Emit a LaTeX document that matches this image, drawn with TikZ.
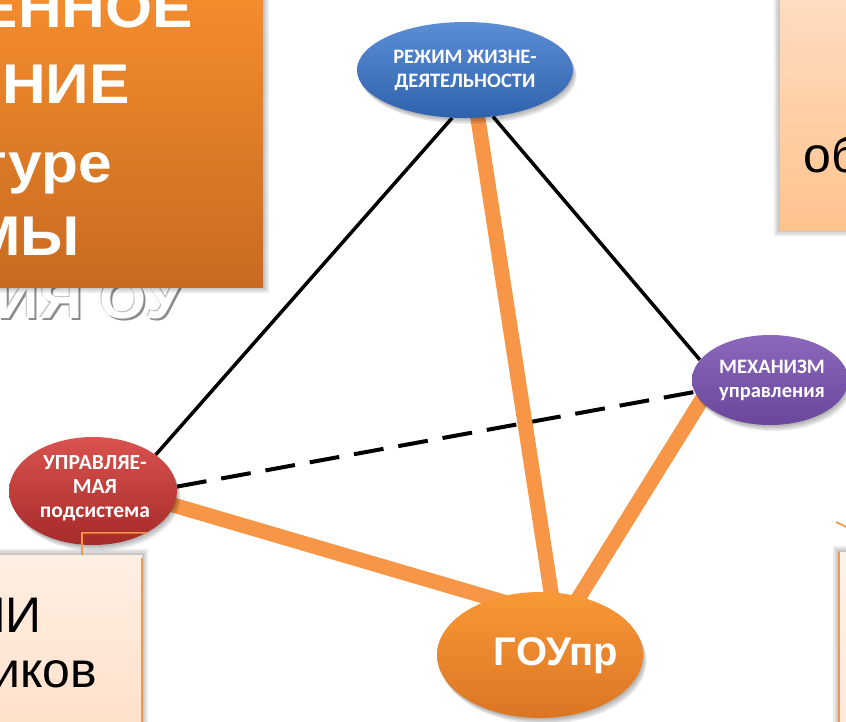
\documentclass[tikz,border=0pt]{standalone}
\usepackage{fontspec}
\setmainfont{Liberation Sans}
\newfontfamily\calib{Carlito}
\newfontfamily\ttlfont[FakeStretch=1.08]{Liberation Sans}
\usetikzlibrary{shapes.geometric}
\definecolor{orA}{HTML}{F79646}
\definecolor{titTop}{HTML}{F58D2E}
\definecolor{titBot}{HTML}{C96A1F}
\definecolor{pchTop}{HTML}{FFDDC2}
\definecolor{pchBot}{HTML}{FFC38E}
\definecolor{lpTop}{HTML}{FFEFE3}
\definecolor{lpBot}{HTML}{FFDFC8}
\definecolor{bluTop}{HTML}{5C8ED6}
\definecolor{bluBot}{HTML}{2F62AC}
\definecolor{redTop}{HTML}{D9534F}
\definecolor{redBot}{HTML}{A52A28}
\definecolor{purTop}{HTML}{8C68BC}
\definecolor{purBot}{HTML}{6A469C}
\definecolor{gouTop}{HTML}{F99836}
\definecolor{gouBot}{HTML}{DB7524}
\begin{document}
\begin{tikzpicture}[x=1pt,y=-1pt,
  shd/.style={fill=black, fill opacity=0.08, draw=none},
  ghost/.style={ellipse, inner sep=0pt, draw=none, fill=none},
  bubble/.style={ellipse, inner sep=0pt, text=white, align=center,
    font=\calib\bfseries\fontsize{20.5}{24}\selectfont},
  blk/.style={line width=3.5pt, draw=black},
  dsh/.style={line width=4pt, draw=black, dash pattern=on 30pt off 15pt},
  orl/.style={line width=15pt, draw=orA, shorten <=-12pt, shorten >=-12pt},
  thinor/.style={line width=1.6pt, draw=orA},
  ttl/.style={text=white, inner sep=0pt, font=\ttlfont\bfseries\fontsize{56}{60}\selectfont},
  btxt/.style={text=black, inner sep=0pt, font=\fontsize{50}{52}\selectfont},
  pbox/.style={rectangle, inner sep=0pt, draw=none}
]
\useasboundingbox (0,0) rectangle (846,721);
\clip (0,0) rectangle (846,721);
\fill[white] (0,0) rectangle (846,721);

% text overflowing below the title box
\node[ttl, text=black!45, anchor=base east] (t5s) at (185,320) {ИЯ ОУ};
\node[ttl, text=black!25, anchor=base east] (t5t) at (182,317) {ИЯ ОУ};
\node[ttl, anchor=base east] (t5) at (183,318) {ИЯ ОУ};

% title box with soft shadow
\foreach \s in {2,4,6} {\fill[shd] (-10+\s,-10+\s) rectangle (263+\s,287+\s);}
\node[pbox, minimum width=273pt, minimum height=297pt, top color=titTop, bottom color=titBot] (title) at (126.5,138.5) {};
\node[ttl, anchor=base east] (t1) at (193,27) {ЕННОЕ};
\node[ttl, anchor=base east] (t2) at (130,103) {НИЕ};
\node[ttl, anchor=base east] (t3) at (112,182) {туре};
\node[ttl, anchor=base east] (t4) at (80,255) {МЫ};

% top-right box
\foreach \s in {2,4,6} {\fill[shd] (780-\s,-10+\s) rectangle (880,230+\s);}
\node[pbox, minimum width=100pt, minimum height=240pt, top color=pchTop, bottom color=pchBot] (trbox) at (830,110) {};
\node[btxt, anchor=base west] (trtext) at (803,172) {об};

% bottom-left box
\foreach \s in {2,4,6} {\fill[shd] (-20,555-\s) rectangle (142+\s,740);}
\node[pbox, minimum width=162pt, minimum height=190pt, top color=lpTop, bottom color=lpBot] (blbox) at (61,650) {};
\draw[line width=2pt, draw=orA] ([yshift=-3pt]blbox.north east) -- (blbox.south east);
\node[btxt, anchor=base east] (bl1) at (42,632) {МИ};
\node[btxt, anchor=base east] (bl2) at (97,687) {иков};

% bottom-right box
\foreach \s in {2,4,6} {\fill[shd] (839-\s,552-\s) rectangle (900,740);}
\node[pbox, minimum width=61pt, minimum height=190pt, top color=lpTop!70!white, bottom color=lpBot!70!white] (brbox) at (869.5,647) {};
\draw[line width=2pt, draw=orA] (brbox.north west) -- (brbox.south west);
\coordinate (brc1) at (836,522);
\coordinate (brc2) at (852,530);
\draw[thinor] (brc1) -- (brc2);

% ellipse outlines used as anchors for the connectors
\node[ghost, minimum width=216pt, minimum height=96pt] (blue) at (465,70) {};
\node[ghost, minimum width=168pt, minimum height=108pt] (red) at (93,491) {};
\node[ghost, minimum width=156pt, minimum height=90pt] (purple) at (770,380) {};
\node[ghost, minimum width=206pt, minimum height=126pt] (gou) at (540,655) {};

% connectors
\draw[blk] (blue.255) -- (red.30);
\draw[blk] (blue.-59) -- (purple.164);
\draw[dsh] (red.3) -- (purple.189);
\draw[orl] (blue.-75) -- (gou.80);
\draw[orl] (purple.197) -- (gou.56);
\draw[orl] (red.-10) -- (gou.130);

% soft shadows under the ellipses
\foreach \n/\rx/\ry in {blue/108/48, red/84/54, purple/78/45, gou/103/63} {
  \foreach \s in {1.5,3,4.5,6} {\fill[shd] ([xshift=\s*0.6pt, yshift=-\s pt]\n.center) ellipse [x radius=\rx pt, y radius=\ry pt];}
}

% visible ellipses
\node[bubble, minimum width=216pt, minimum height=96pt, top color=bluTop, bottom color=bluBot] (blueV) at (blue) {РЕЖИМ ЖИЗНЕ-\\ДЕЯТЕЛЬНОСТИ};
\node[bubble, minimum width=168pt, minimum height=108pt, top color=redTop, bottom color=redBot] (redV) at (red) {};
\node[bubble, minimum width=156pt, minimum height=90pt, top color=purTop, bottom color=purBot] (purpleV) at (purple) {};
\node[bubble, minimum width=206pt, minimum height=126pt, top color=gouTop, bottom color=gouBot] (gouV) at (gou) {};

\node[bubble] (purlbl) at (772,380) {МЕХАНИЗМ\\управления};
\node[bubble, font=\calib\bfseries\fontsize{21.5}{24}\selectfont] (redlbl) at (95,488) {УПРАВЛЯЕ-\\МАЯ\\подсистема};
\node[text=white, inner sep=0pt, font=\bfseries\fontsize{40}{42}\selectfont] (goulbl) at (556,656) {ГОУпр};

% elbow connector from bottom-left box
\draw[thinor] ([xshift=21pt]blbox.north) -- ++(0,-22) -- (red.-38);
\end{tikzpicture}
\end{document}
